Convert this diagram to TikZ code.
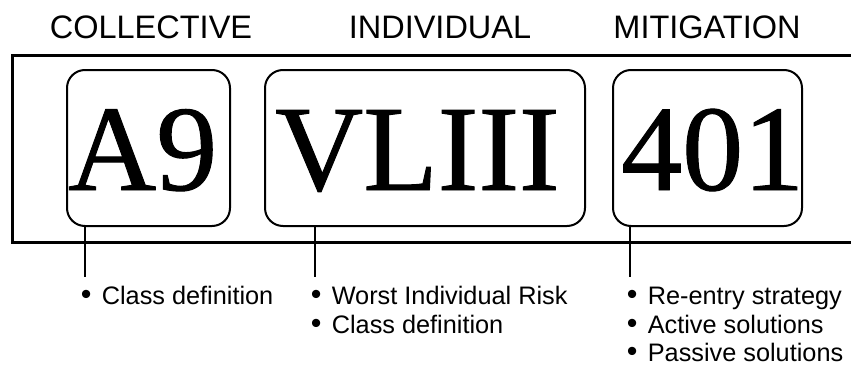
\documentclass[tikz,border=0pt]{standalone}
\usepackage{fontspec}
\setmainfont{Liberation Sans}
\newfontfamily\codefont[FakeBold=0.8]{Liberation Serif}
% bullet followed by a fixed gap before the item text
\newcommand\itm{\makebox[21pt][l]{\scalebox{1.2}{•}}}
\newcommand\firstline{\rule{0pt}{20pt}}
\begin{document}
\begin{tikzpicture}[x=1pt,y=-1pt,
  frame/.style={line width=3pt},
  codebox/.style={draw, line width=2pt, rounded corners=18pt, inner sep=0pt,
    minimum height=156pt},
  codetext/.style={font=\codefont\fontsize{122}{122}\selectfont, inner sep=0pt,
    anchor=base west},
  heading/.style={font=\fontsize{32.5}{36}\selectfont, inner sep=0pt, anchor=base},
  lead/.style={line width=2pt},
  notes/.style={font=\fontsize{25.3}{28.8}\selectfont, align=left, inner sep=0pt,
    anchor=north west}]
\useasboundingbox (0,0) rectangle (851,367);

% column headings
\node[heading] (hcol) at (151,38) {COLLECTIVE};
\node[heading] (hind) at (440,38) {INDIVIDUAL};
\node[heading] (hmit) at (707,38) {MITIGATION};

% frame, open to the right
\draw[frame] (853,55) -| (12,242) -- (853,242);

% code boxes
\node[codebox, minimum width=163pt] (a9) at (148.5,148) {};
\node[codebox, minimum width=320pt] (vl) at (425,148) {};
\node[codebox, minimum width=189pt] (mt) at (707.5,148) {};

\node[codetext] (ta9) at (68,190) {A9};
\node[codetext] (tvl) at (275,190) {VLIII};
\node[codetext] (tmt) at (621,190) {401};

% leader lines
\coordinate (l1) at (85,277);
\coordinate (l2) at (315,277);
\coordinate (l3) at (630,277);
\draw[lead] (a9.south -| l1) -- (l1);
\draw[lead] (vl.south -| l2) -- (l2);
\draw[lead] (mt.south -| l3) -- (l3);

% notes
\node[notes] (n1) at (80.6,284) {\firstline\itm Class definition};
\node[notes] (n2) at (310.6,284) {\firstline\itm Worst Individual Risk\\\itm Class definition};
\node[notes] (n3) at (626.6,284) {\firstline\itm Re-entry strategy\\\itm Active solutions\\\itm Passive solutions};
\end{tikzpicture}
\end{document}
